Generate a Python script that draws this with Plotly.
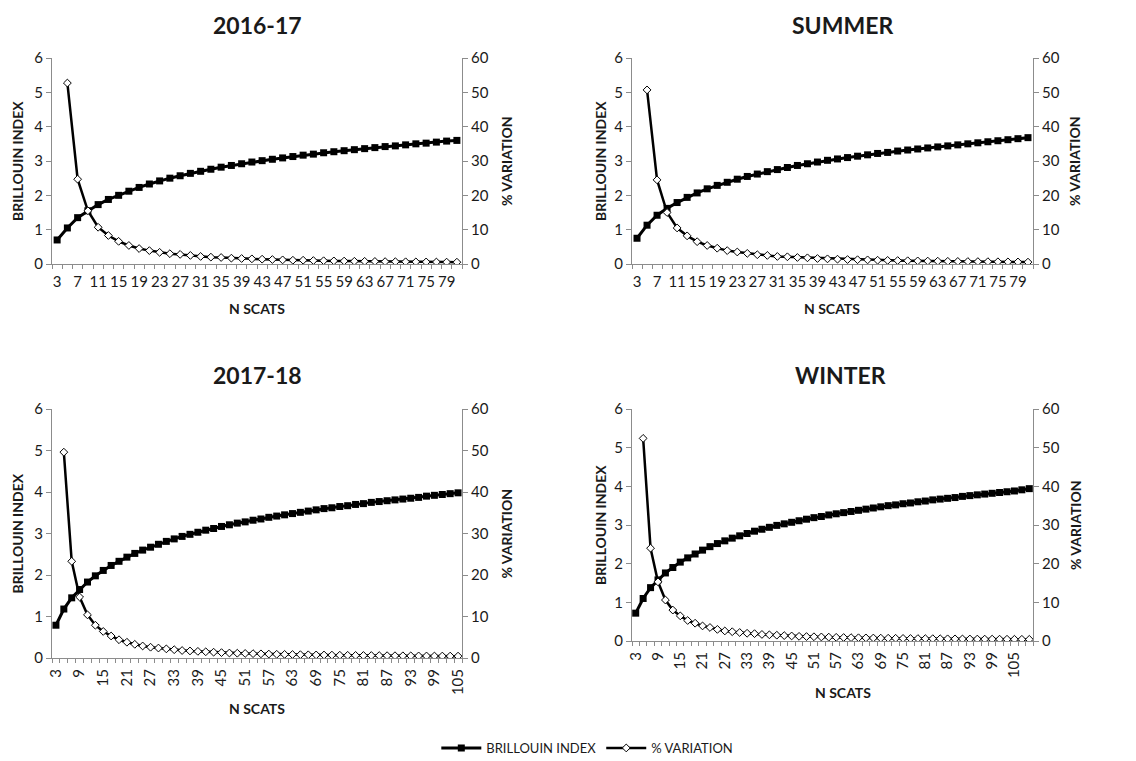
import plotly.graph_objects as go

# ---------------- data ----------------
titles = ["2016-17", "SUMMER", "2017-18", "WINTER"]

n_scats_1617 = list(range(3, 82, 2))
bri_1617 = [0.70, 1.05, 1.35, 1.55, 1.73, 1.88, 2.00, 2.12, 2.23, 2.33,
            2.42, 2.50, 2.57, 2.64, 2.70, 2.76, 2.82, 2.87, 2.92, 2.97,
            3.01, 3.05, 3.09, 3.13, 3.17, 3.20, 3.24, 3.27, 3.30, 3.33,
            3.36, 3.39, 3.42, 3.44, 3.47, 3.50, 3.52, 3.55, 3.58, 3.60]
var_1617 = [52.7, 24.7, 15.5, 10.7, 8.3, 6.6, 5.4, 4.5, 3.9,
            3.4, 3.0, 2.8, 2.5, 2.2, 2.0, 1.9, 1.7, 1.6, 1.5,
            1.4, 1.3, 1.2, 1.1, 1.1, 1.0, 0.95, 0.9, 0.85, 0.8,
            0.78, 0.75, 0.7, 0.68, 0.65, 0.62, 0.6, 0.58, 0.55, 0.53]

n_scats_summer = list(range(3, 82, 2))
bri_summer = [0.75, 1.13, 1.42, 1.62, 1.79, 1.94, 2.07, 2.19, 2.29, 2.38,
              2.47, 2.55, 2.62, 2.69, 2.75, 2.81, 2.87, 2.92, 2.97, 3.02,
              3.06, 3.10, 3.14, 3.18, 3.22, 3.25, 3.29, 3.32, 3.35, 3.38,
              3.41, 3.44, 3.47, 3.50, 3.53, 3.56, 3.59, 3.62, 3.65, 3.68]
var_summer = [50.7, 24.5, 15.0, 10.5, 8.2, 6.5, 5.4, 4.6, 3.9,
              3.5, 3.1, 2.7, 2.5, 2.2, 2.1, 1.9, 1.8, 1.6, 1.5,
              1.4, 1.3, 1.25, 1.2, 1.1, 1.05, 1.0, 0.95, 0.9, 0.85,
              0.82, 0.78, 0.75, 0.72, 0.7, 0.68, 0.65, 0.62, 0.6, 0.55]

n_scats_1718 = list(range(3, 106, 2))
bri_1718 = [0.79, 1.18, 1.45, 1.65, 1.83, 1.98, 2.11, 2.23, 2.33, 2.43,
            2.52, 2.60, 2.67, 2.74, 2.81, 2.87, 2.93, 2.98, 3.03, 3.08,
            3.12, 3.17, 3.21, 3.25, 3.28, 3.32, 3.35, 3.39, 3.42, 3.45,
            3.48, 3.51, 3.54, 3.57, 3.60, 3.62, 3.65, 3.67, 3.70, 3.72,
            3.75, 3.77, 3.79, 3.81, 3.83, 3.85, 3.87, 3.90, 3.92, 3.94,
            3.96, 3.98]
var_1718 = [49.6, 23.3, 14.7, 10.4, 7.9, 6.4, 5.3, 4.4, 3.8,
            3.3, 2.9, 2.6, 2.4, 2.2, 2.0, 1.8, 1.7, 1.6, 1.5,
            1.4, 1.3, 1.2, 1.15, 1.1, 1.05, 1.0, 0.95, 0.9, 0.87,
            0.84, 0.8, 0.77, 0.74, 0.72, 0.7, 0.67, 0.65, 0.63, 0.61,
            0.6, 0.58, 0.56, 0.55, 0.53, 0.52, 0.5, 0.49, 0.48, 0.47,
            0.46, 0.45]

n_scats_winter = list(range(3, 110, 2))
bri_winter = [0.72, 1.10, 1.38, 1.58, 1.76, 1.90, 2.04, 2.15, 2.25, 2.35,
              2.44, 2.52, 2.59, 2.66, 2.72, 2.78, 2.84, 2.89, 2.94, 2.99,
              3.03, 3.07, 3.11, 3.15, 3.19, 3.22, 3.26, 3.29, 3.32, 3.35,
              3.38, 3.41, 3.44, 3.47, 3.50, 3.52, 3.55, 3.57, 3.60, 3.62,
              3.65, 3.67, 3.69, 3.71, 3.74, 3.76, 3.78, 3.80, 3.82, 3.84,
              3.86, 3.88, 3.91, 3.94]
var_winter = [52.4, 24.0, 15.3, 10.6, 8.0, 6.5, 5.3, 4.6, 3.9,
              3.5, 3.0, 2.6, 2.4, 2.2, 2.0, 1.9, 1.7, 1.6, 1.5,
              1.4, 1.3, 1.2, 1.15, 1.1, 1.05, 1.0, 0.95, 0.9, 0.87,
              0.84, 0.8, 0.77, 0.74, 0.72, 0.7, 0.67, 0.65, 0.63, 0.61,
              0.6, 0.58, 0.56, 0.55, 0.53, 0.52, 0.5, 0.49, 0.48, 0.47,
              0.46, 0.45, 0.44, 0.43]

tick_step = [4, 4, 6, 6]

# ---------------- layout ----------------
W, H = 1136, 761
FONT = "Lato"
AX_COL = "#8c8c8c"
TXT = "#1a1a1a"

# pixel boxes: (left, right, top, bottom)
boxes = [(52, 462, 58, 264), (632, 1033, 58, 264),
         (52, 462, 409, 658), (632, 1033, 409, 641)]
# title / axis-title pixel positions
title_pos = [(257, 25), (842, 25), (257, 375), (840, 375)]
left_title_x = [17, 600, 17, 600]
right_title_x = [506, 1074, 506, 1075]
xtitle_pos = [(257, 308), (832, 308), (257, 708), (843, 692)]

series = [(n_scats_1617, bri_1617, var_1617),
          (n_scats_summer, bri_summer, var_summer),
          (n_scats_1718, bri_1718, var_1718),
          (n_scats_winter, bri_winter, var_winter)]

fig = go.Figure()
layout = dict(width=W, height=H, margin=dict(l=0, r=0, t=0, b=0, autoexpand=False),
              paper_bgcolor="white", plot_bgcolor="white",
              font=dict(family=FONT, color=TXT, size=14),
              showlegend=True,
              legend=dict(orientation="h", x=0.517, xanchor="center", y=1 - 748 / H, yanchor="middle",
                          font=dict(size=13, family=FONT), itemwidth=40, bgcolor="rgba(0,0,0,0)"))
annotations = []


def ann(text, px, py, size, angle=0):
    return dict(text=text, xref="paper", yref="paper", x=px / W, y=1 - py / H,
                xanchor="center", yanchor="middle", showarrow=False, textangle=angle,
                font=dict(size=size, family=FONT, color=TXT))


for k, ((xs, bri, var), (l, r, t, b)) in enumerate(zip(series, boxes)):
    xi = k + 1
    yl = 2 * k + 1
    yr = 2 * k + 2
    xname = "x" if xi == 1 else f"x{xi}"
    ylname = "y" if yl == 1 else f"y{yl}"
    yrname = f"y{yr}"
    xdom = [l / W, r / W]
    ydom = [1 - b / H, 1 - t / H]

    fig.add_trace(go.Scatter(x=xs, y=bri, xaxis=xname, yaxis=ylname, mode="lines+markers",
                             name="BRILLOUIN INDEX", showlegend=(k == 0),
                             line=dict(color="black", width=3),
                             marker=dict(symbol="square", size=7, color="black")))
    fig.add_trace(go.Scatter(x=xs[1:], y=var, xaxis=xname, yaxis=yrname, mode="lines+markers",
                             name="% VARIATION", showlegend=(k == 0),
                             line=dict(color="black", width=2.5),
                             marker=dict(symbol="diamond", size=6, color="white",
                                         line=dict(color="black", width=1))))

    step = tick_step[k]
    tv = xs[::step // 2]
    layout["xaxis" if xi == 1 else f"xaxis{xi}"] = dict(
        domain=xdom, anchor=ylname, range=[xs[0] - 1, xs[-1] + 1], automargin=False,
        tickmode="array", tickvals=tv, ticktext=[str(v) for v in tv],
        tickangle=0 if k < 2 else -90, ticks="", showgrid=False, zeroline=False,
        showline=True, linecolor=AX_COL, linewidth=1, ticklabelstandoff=4,
        tickfont=dict(size=15, color=TXT),
        minor=dict(tick0=2, dtick=2, ticks="outside", ticklen=4, tickcolor=AX_COL, tickwidth=1))
    layout["yaxis" if yl == 1 else f"yaxis{yl}"] = dict(
        domain=ydom, anchor=xname, range=[0, 6], dtick=1, tick0=0, automargin=False,
        ticks="outside", ticklen=5, tickcolor=AX_COL, showgrid=False, zeroline=False,
        showline=True, linecolor=AX_COL, linewidth=1, tickfont=dict(size=15, color=TXT))
    layout[f"yaxis{yr}"] = dict(
        domain=ydom, anchor=xname, overlaying=ylname, side="right", range=[0, 60], dtick=10, tick0=0,
        automargin=False,
        ticks="outside", ticklen=5, tickcolor=AX_COL, showgrid=False, zeroline=False,
        showline=True, linecolor=AX_COL, linewidth=1, tickfont=dict(size=15, color=TXT))

    tx, ty = title_pos[k]
    annotations.append(ann(f"<b>{titles[k]}</b>", tx, ty, 23))
    cy = (t + b) / 2
    annotations.append(ann("<b>BRILLOUIN INDEX</b>", left_title_x[k], cy, 14, -90))
    annotations.append(ann("<b>% VARIATION</b>", right_title_x[k], cy, 14, -90))
    xx, xy = xtitle_pos[k]
    annotations.append(ann("<b>N SCATS</b>", xx, xy, 14))

layout["annotations"] = annotations
fig.update_layout(**layout)
fig.write_html("out.html", config={"displayModeBar": False},
               post_script="document.body.style.margin='0';document.body.style.overflow='hidden';")
